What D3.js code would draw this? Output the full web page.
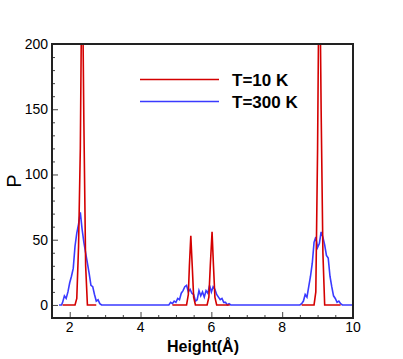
<!DOCTYPE html>
<html>
  <head>
    <title>P vs Height</title>
    <meta charset="utf-8">
    <style>
    body {
      margin: 0;
      background: #fff;
    }
    svg {
      display: block;
    }
    .frame {
      fill: none;
      stroke: #222;
      stroke-width: 2px;
    }
    .tick-label {
      font-family: "Liberation Sans", Arial, Helvetica, sans-serif;
      font-size: 14px;
      fill: #000;
    }
    .title {
      font-family: "Liberation Sans", Arial, Helvetica, sans-serif;
      font-weight: bold;
      fill: #000;
    }
    </style>
  </head>
  <body>
    <svg></svg>
    <script src="https://d3js.org/d3.v7.min.js"></script>
    <script>
      // T=300 K curve (blue)
      var blueX = [1.70, 1.77, 1.80, 1.85, 1.90, 1.95, 2.00, 2.05, 2.10, 2.15, 2.20, 2.25, 2.30, 2.35,
                   2.40, 2.45, 2.50, 2.55, 2.60, 2.65, 2.70, 2.75, 2.80, 2.85, 2.90,
                   4.80, 4.85, 4.90, 4.95, 5.00, 5.05, 5.10, 5.15, 5.20, 5.25, 5.30, 5.35, 5.40, 5.45,
                   5.50, 5.55, 5.60, 5.65, 5.70, 5.75, 5.80, 5.85, 5.90, 5.95, 6.00, 6.05, 6.10, 6.15,
                   6.20, 6.25, 6.30, 6.35, 6.40, 6.45, 6.50, 6.55,
                   8.50, 8.55, 8.60, 8.65, 8.70, 8.75, 8.80, 8.85, 8.90, 8.95, 9.00, 9.05, 9.10, 9.15,
                   9.20, 9.25, 9.30, 9.35, 9.40, 9.45, 9.50, 9.55, 9.60, 9.65, 9.70, 10.0];
      var blueY = [0, 0, 2, 7, 5, 10, 17, 22, 28, 45, 55, 62, 71, 58,
                   48, 40, 32, 24, 15, 14, 8, 3, 4, 1, 0,
                   0, 2, 1, 3, 2, 5, 4, 9, 11, 14, 15, 10, 12, 9,
                   8, 3, 4, 11, 7, 10, 6, 11, 9, 15, 10, 14, 12, 8,
                   6, 4, 5, 2, 2, 0, 1, 0,
                   0, 1, 3, 8, 6, 14, 22, 32, 48, 52, 44, 47, 56, 52,
                   46, 38, 36, 22, 14, 7, 5, 2, 3, 1, 0, 0];

      // T=10 K curve (red), null breaks the line
      var redX = [1.80, 2.15, 2.20, 2.25, 2.30, 2.35, 2.40, 2.45, 2.50, 2.75, 2.76,
                  4.90, 5.30, 5.35, 5.38, 5.42, 5.46, 5.50, 5.55, 5.88, 5.93, 5.97, 6.02, 6.06, 6.10, 6.15, 6.52, 6.53,
                  8.55, 8.90, 8.95, 9.00, 9.05, 9.10, 9.15, 9.20, 9.65];
      var redY = [0, 0, 5, 45, 120, 280, 140, 30, 0, 0, null,
                  0, 0, 8, 30, 53, 30, 6, 0, 0, 6, 30, 56, 30, 6, 0, 0, null,
                  0, 0, 10, 120, 290, 150, 40, 0, 0];

      var xTicks = [2, 4, 6, 8, 10];
      var yTicks = [0, 50, 100, 150, 200];
      var legendLabels = ["T=10 K", "T=300 K"];
      var colors = ["#d40000", "#3a3aff"];

      var width = 403, height = 359;
      var mLeft = 52, mRight = 353, mTop = 44, mBottom = 318;

      var svg = d3.select("svg")
          .attr("width", width)
          .attr("height", height);

      var x = d3.scaleLinear().domain([1.5, 10]).range([mLeft, mRight]);
      var y = d3.scaleLinear().domain([-10, 200]).range([mBottom, mTop]);

      svg.append("defs").append("clipPath")
          .attr("id", "clip")
        .append("rect")
          .attr("x", mLeft).attr("y", mTop)
          .attr("width", mRight - mLeft).attr("height", mBottom - mTop);

      var line = d3.line()
          .defined(function(d) { return d[1] !== null; })
          .x(function(d) { return x(d[0]); })
          .y(function(d) { return y(d[1]); });

      var plot = svg.append("g").attr("clip-path", "url(#clip)");

      plot.append("path")
          .datum(blueX.map(function(v, i) { return [v, blueY[i]]; }))
          .attr("fill", "none")
          .attr("stroke", colors[1])
          .attr("stroke-width", 1.6)
          .attr("d", line);

      plot.append("path")
          .datum(redX.map(function(v, i) { return [v, redY[i]]; }))
          .attr("fill", "none")
          .attr("stroke", colors[0])
          .attr("stroke-width", 1.6)
          .attr("d", line);

      // axes: inward ticks, minor every 0.5 / 10
      var xAxis = d3.axisTop(x)
          .tickValues(d3.range(2, 10.01, 0.5))
          .tickSize(3)
          .tickFormat("");
      svg.append("g")
          .attr("transform", "translate(0," + mBottom + ")")
          .call(xAxis)
          .call(function(g) {
            g.select(".domain").remove();
            g.selectAll(".tick line").attr("stroke", "#444")
              .attr("y2", function(d) { return xTicks.indexOf(d) >= 0 ? -6 : -3; });
          });

      var yAxis = d3.axisRight(y)
          .tickValues(d3.range(0, 201, 10))
          .tickSize(3)
          .tickFormat("");
      svg.append("g")
          .attr("transform", "translate(" + mLeft + ",0)")
          .call(yAxis)
          .call(function(g) {
            g.select(".domain").remove();
            g.selectAll(".tick line").attr("stroke", "#444")
              .attr("x2", function(d) { return yTicks.indexOf(d) >= 0 ? 6 : 3; });
          });

      svg.selectAll(".xlab")
          .data(xTicks)
          .enter().append("text")
            .attr("class", "tick-label")
            .attr("x", function(d) { return x(d); })
            .attr("y", mBottom + 14)
            .attr("text-anchor", "middle")
            .text(function(d) { return d; });

      svg.selectAll(".ylab")
          .data(yTicks)
          .enter().append("text")
            .attr("class", "tick-label")
            .attr("x", mLeft - 4)
            .attr("y", function(d) { return y(d) + 5; })
            .attr("text-anchor", "end")
            .text(function(d) { return d; });

      svg.append("rect")
          .attr("class", "frame")
          .attr("x", mLeft).attr("y", mTop)
          .attr("width", mRight - mLeft).attr("height", mBottom - mTop);

      svg.append("text")
          .attr("class", "title")
          .attr("x", 203)
          .attr("y", 352)
          .attr("text-anchor", "middle")
          .style("font-size", "16px")
          .text("Height(Å)");

      svg.append("text")
          .attr("class", "title")
          .attr("transform", "translate(21,181) rotate(-90)")
          .attr("text-anchor", "middle")
          .style("font-size", "20px")
          .style("font-weight", "normal")
          .text("P");

      // legend
      var legend = svg.selectAll(".legend")
          .data(legendLabels)
          .enter().append("g")
            .attr("transform", function(d, i) { return "translate(140," + (79.5 + i * 22) + ")"; });
      legend.append("line")
          .attr("x1", 0).attr("x2", 79)
          .attr("stroke", function(d, i) { return colors[i]; })
          .attr("stroke-width", 1.6);
      legend.append("text")
          .attr("class", "title")
          .attr("x", 92)
          .attr("y", 6.5)
          .style("font-size", "17px")
          .text(function(d) { return d; });
    </script>
  </body>
</html>
